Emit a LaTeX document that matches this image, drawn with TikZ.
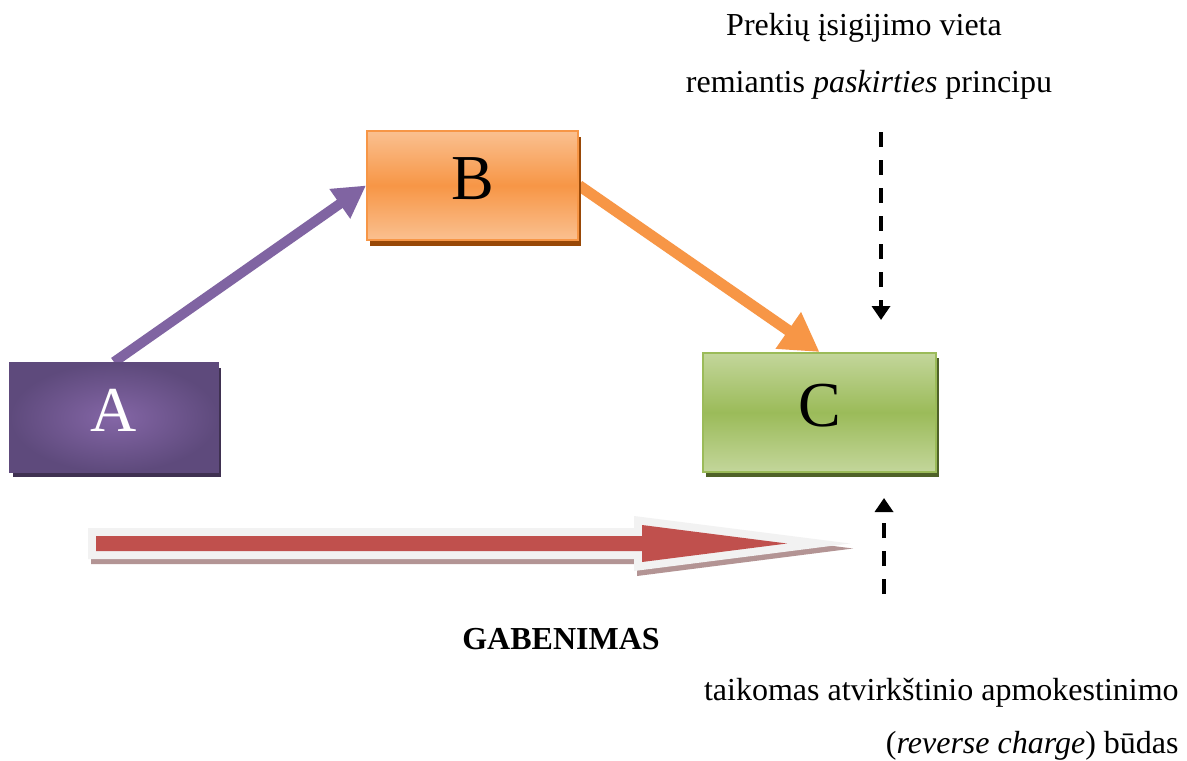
\documentclass[tikz,border=0pt]{standalone}
\usepackage{fontspec}
\setmainfont{Liberation Serif}
\usetikzlibrary{arrows.meta,shadows,backgrounds}
\definecolor{purpLight}{HTML}{8466A6}
\definecolor{purpDark}{HTML}{5E4A7C}
\definecolor{purpShadow}{HTML}{3F3151}
\definecolor{purpArrow}{HTML}{8064A2}
\definecolor{orgLight}{HTML}{FAC090}
\definecolor{orgMid}{HTML}{F79646}
\definecolor{orgShadow}{HTML}{984807}
\definecolor{grnLight}{HTML}{C3D69B}
\definecolor{grnMid}{HTML}{9BBB59}
\definecolor{grnShadow}{HTML}{4F6228}
\definecolor{redFill}{HTML}{C0504D}
\definecolor{redRim}{HTML}{F2F2F2}
\definecolor{redShadow}{HTML}{B39494}
\begin{document}
\begin{tikzpicture}[x=0.5pt,y=-0.5pt,
  letterbox/.style={rectangle, inner sep=0pt, line width=1pt,
    font=\fontsize{32}{38}\selectfont, text height=21pt, text depth=7pt},
  boxA/.style={letterbox, minimum width=104pt, minimum height=54.5pt,
    draw=purpDark, inner color=purpLight, outer color=purpDark, text=white,
    drop shadow={shadow xshift=1.5pt, shadow yshift=-2.5pt, opacity=1, fill=purpShadow}},
  boxB/.style={letterbox, minimum width=105.5pt, minimum height=54.5pt,
    draw=orgMid, top color=orgLight, bottom color=orgLight, middle color=orgMid,
    drop shadow={shadow xshift=1.5pt, shadow yshift=-3pt, opacity=1, fill=orgShadow}},
  boxC/.style={letterbox, minimum width=116.5pt, minimum height=59.5pt,
    draw=grnMid, top color=grnLight, bottom color=grnLight, middle color=grnMid,
    drop shadow={shadow xshift=1.5pt, shadow yshift=-2.5pt, opacity=1, fill=grnShadow}},
  purpconn/.style={draw=purpArrow, line width=5pt, -{Triangle[length=16pt,width=17pt]}},
  orgconn/.style={draw=orgMid, line width=5.5pt, -{Triangle[length=19pt,width=21pt]}},
  dashconn/.style={draw=black, line width=1.8pt, dash pattern=on 7.5pt off 6.5pt,
    -{Triangle[length=7pt,width=9pt]}},
  caption/.style={inner sep=0pt, font=\fontsize{16}{19}\selectfont},
  bigarrow/.style={fill=redFill},
  bigrim/.style={fill=redRim},
  bigshadow/.style={fill=redShadow}
]
\useasboundingbox (0,0) rectangle (1187,760);

% boxes
\node[boxA] (A) at (114,417.5) {A};
\node[boxB] (B) at (472.5,185.5) {B};
\node[boxC] (C) at (819.5,412.5) {C};

% connectors behind the boxes
\begin{scope}[on background layer]
  \fill[white] (0,0) rectangle (1187,760);
  \draw[purpconn] (A.north) -- (B.west);
  \draw[orgconn] (B.east) -- (C.north);
\end{scope}

% dashed arrows
\coordinate (p1) at (881,132);
\coordinate (q1) at (884,594);
\draw[dashconn, shorten >=16pt] (p1) -- (p1 |- C.north);
\draw[dashconn, shorten >=12.5pt] (q1) -- (q1 |- C.south);

% big transport arrow
\fill[bigshadow] (91,533) -- (637,533) -- (637,521) -- (853,548.5) -- (637,576) -- (637,564) -- (91,564) -- cycle;
\fill[bigrim] (88,528) -- (634,528) -- (634,516) -- (850,543.5) -- (634,571) -- (634,559) -- (88,559) -- cycle;
\fill[bigarrow] (96,536) -- (642,536) -- (642,525) -- (787,543.5) -- (642,562) -- (642,551) -- (96,551) -- cycle;

% texts
\node[caption, anchor=base] (t1) at (864,35) {Prekių įsigijimo vieta};
\node[caption, anchor=base] (t2) at (869,92) {remiantis \textit{paskirties} principu};
\node[caption, anchor=base, font=\fontsize{16}{19}\selectfont\bfseries] (g) at (561,649) {GABENIMAS};
\node[caption, anchor=base east] (t3) at (1179,700) {taikomas atvirkštinio apmokestinimo};
\node[caption, anchor=base east] (t4) at (1179,753) {(\textit{reverse charge}) būdas};
\end{tikzpicture}
\end{document}
